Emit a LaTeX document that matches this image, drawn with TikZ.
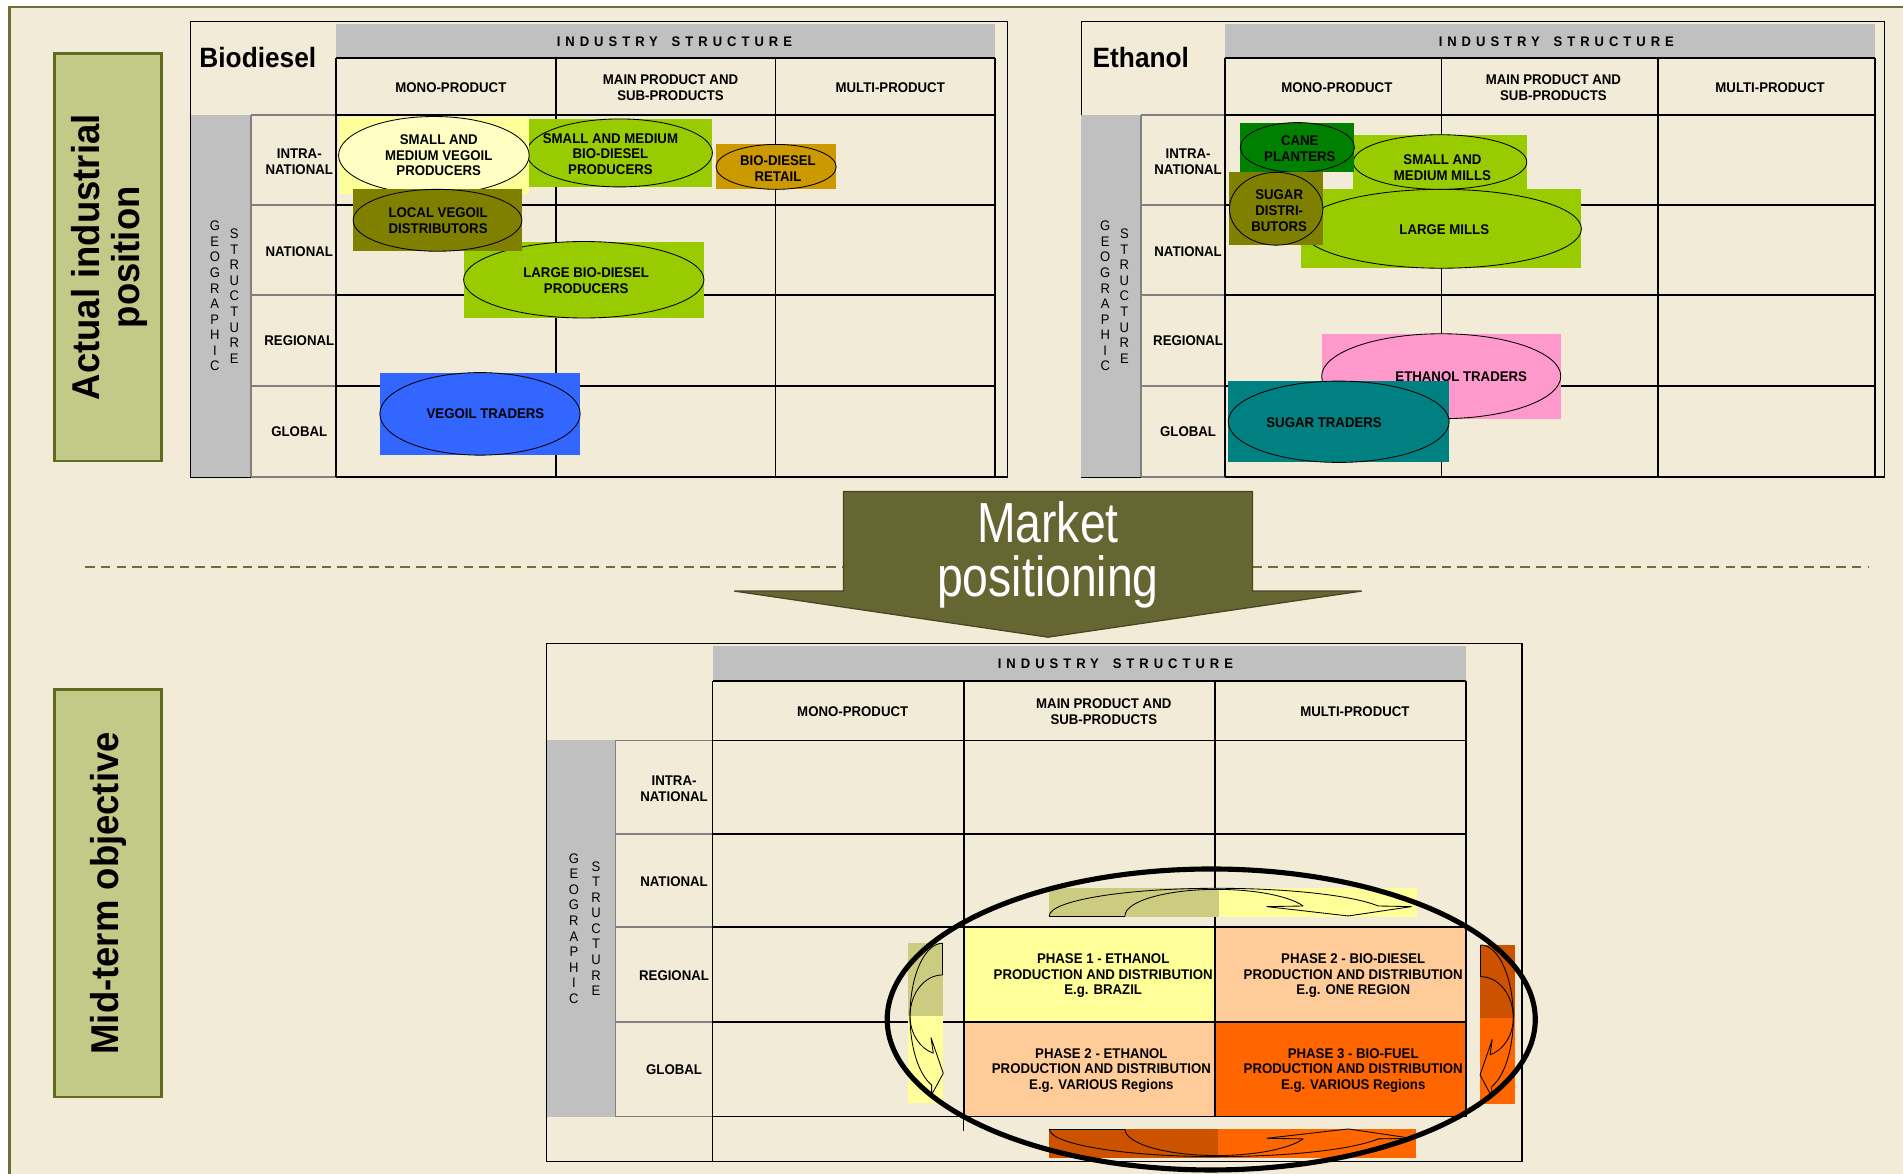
\documentclass[tikz,border=0pt]{standalone}
\usepackage{fontspec}
\setmainfont[FakeStretch=0.94]{Liberation Sans}
\newfontfamily\condfont[FakeStretch=0.82]{Liberation Sans}
\usepackage{tikz}
\usetikzlibrary{shapes.geometric}

\definecolor{paper}{HTML}{F2EBD7}
\definecolor{frameolive}{HTML}{6E6E3A}
\definecolor{tagfill}{HTML}{C3C987}
\definecolor{tagline}{HTML}{5F6B1E}
\definecolor{arrowolive}{HTML}{666633}
\definecolor{headgray}{HTML}{C0C0C0}
\definecolor{sidegray}{HTML}{808080}
\definecolor{paleyellow}{HTML}{FFFF99}
\definecolor{creamyellow}{HTML}{FFFFC4}
\definecolor{limegreen}{HTML}{99CC00}
\definecolor{oliveshade}{HTML}{808000}
\definecolor{goldshade}{HTML}{CC9900}
\definecolor{traderblue}{HTML}{3366FF}
\definecolor{leafgreen}{HTML}{008000}
\definecolor{rosepink}{HTML}{FF99CC}
\definecolor{tealshade}{HTML}{008080}
\definecolor{peach}{HTML}{FFCC99}
\definecolor{brightorange}{HTML}{FF6600}
\definecolor{burntorange}{HTML}{CC5200}
\definecolor{khaki}{HTML}{CCCC80}

\tikzset{%
  sheet/.style = {fill=paper, draw=frameolive, line width=1.1pt},
  tag/.style = {fill=tagfill, draw=tagline, line width=1.1pt},
  tagtext/.style = {rotate=90, align=center, inner sep=0pt,
        font=\bfseries\fontsize{18.2}{19}\selectfont},
  tableframe/.style = {draw=black, line width=0.6pt},
  gridline/.style = {draw=black, line width=0.8pt},
  sideline/.style = {draw=sidegray, line width=0.8pt},
  thinline/.style = {draw=black, line width=0.4pt},
  cell/.style = {align=center, inner sep=0pt,
        font=\bfseries\fontsize{6.6}{7.4}\selectfont},
  headtext/.style = {inner sep=0pt,
        font=\bfseries\fontsize{6.5}{7.4}\selectfont\addfontfeature{LetterSpace=36}},
  stack/.style = {align=center, inner sep=0pt,
        font=\fontsize{6.5}{7.3}\selectfont},
  titletext/.style = {anchor=base west, inner sep=0pt,
        font=\bfseries\fontsize{13.1}{15}\selectfont},
  actor/.style = {ellipse, draw=black, line width=0.4pt, inner sep=0pt},
  divider/.style = {draw=frameolive, line width=0.7pt, dash pattern=on 0.16cm off 0.1cm},
  bigarrow/.style = {fill=arrowolive, draw=arrowolive!70!black, line width=0.6pt},
  marketlabel/.style = {text=white, align=center, inner sep=0pt,
        font=\condfont\fontsize{26.5}{25.5}\selectfont},
  bendline/.style = {draw=black, line width=0.4pt},
  ring/.style = {draw=black, line width=2.4pt},
  hbend/.pic = {
    \draw[bendline] (0,0) -- (62.3,0);
    \draw[bendline] (0,0) arc[start angle=180, end angle=270, x radius=137.8, y radius=22.8]
      arc[start angle=270, end angle=339, x radius=142.7, y radius=22.8];
    \draw[bendline] (62.3,0) arc[start angle=180, end angle=270, x radius=75.5, y radius=21.9]
      arc[start angle=270, end angle=338, x radius=77, y radius=21.9];
    \draw[bendline] (209.2,-8.2) -- (179,-7.7) -- (246.3,0) -- (298.5,-7.7) -- (271,-8.2);
  },
  vbend/.pic = {
    \draw[bendline] (0,0) -- (0,26.1);
    \draw[bendline] (0,0) arc[start angle=270, end angle=180, x radius=26.9, y radius=59.9]
      arc[start angle=180, end angle=109.8, x radius=26.9, y radius=60.4];
    \draw[bendline] (0,26.1) arc[start angle=270, end angle=180, x radius=26.9, y radius=33.8]
      arc[start angle=180, end angle=106.6, x radius=26.9, y radius=32];
    \draw[bendline] (-7.7,90.6) -- (-9.6,77.7) -- (0.5,107.1) -- (-9.1,124.9) -- (-9.1,116.7);
  }
}

% grid of one positioning table: prefix, x, y, xscale, yscale, text shift
\newcommand{\positiongrid}[6]{%
  \begin{scope}[shift={(#2,#3)}, xscale=#4, yscale=#5]
    \fill[headgray] (120,2) rectangle (663,30);
    \fill[headgray] (0,77) rectangle (50,375);
    \foreach \gy in {77,151,225,300,375} {
      \draw[gridline] (120,\gy) -- (663,\gy);
      \draw[sideline] (50,\gy) -- (120,\gy);
    }
    \draw[gridline] (120,30) -- (663,30);
    \foreach \gx in {120,301,482,663}
      \draw[gridline] (\gx,30) -- (\gx,375);
    \draw[sideline] (50,77) -- (50,375);
    \node[headtext] (#1-head) at (391.5+1.8*#6,16) {INDUSTRY\quad STRUCTURE};
    \node[cell] (#1-mono) at (210.5+#6,54) {MONO-PRODUCT};
    \node[cell] (#1-main) at (391.5+#6,54) {MAIN PRODUCT AND\\SUB-PRODUCTS};
    \node[cell] (#1-multi) at (572.5+#6,54) {MULTI-PRODUCT};
    \node[cell] (#1-intra) at (88+0.4*#6,115) {INTRA-\\NATIONAL};
    \node[cell] (#1-nat) at (88+0.4*#6,189) {NATIONAL};
    \node[cell] (#1-reg) at (88+0.4*#6,263) {REGIONAL};
    \node[cell] (#1-glob) at (88+0.4*#6,338) {GLOBAL};
    \node[stack] (#1-geo) at (20,226) {G\\E\\O\\G\\R\\A\\P\\H\\I\\C};
    \node[stack] (#1-str) at (36,226) {S\\T\\R\\U\\C\\T\\U\\R\\E};
  \end{scope}}

% one player: name, box colour, ellipse colour, x1, y1, x2, y2, text position, text
\newcommand{\actor}[9]{%
  \fill[#2] (#4,#5) rectangle (#6,#7);
  \node[actor, fill=#3, minimum width={(#6-#4)*0.02cm}, minimum height={(#7-#5)*0.02cm}]
    (#1) at ({(#4+#6)/2},{(#5+#7)/2}) {};
  \node[cell] (#1-label) at #8 {#9};}

\begin{document}
\begin{tikzpicture}[x=0.02cm, y=-0.02cm]
\useasboundingbox (0,0) rectangle (1568,967);
\fill[white] (0,0) rectangle (1568,967);
\draw[sheet] (7.7,6) rectangle (1620,1020);

% side tags
\draw[tag] (45,44) rectangle (133,380);
\node[tagtext] (actualtag) at (90,212) {Actual industrial\\position};
\draw[tag] (45,568) rectangle (133,904);
\node[tagtext] (midtag) at (89,736) {Mid-term objective};

% biodiesel table
\draw[tableframe] (157,18) rectangle (830,393);
\positiongrid{bio}{157}{18}{1}{1}{4}
\node[titletext] (biotitle) at (164,56) {Biodiesel};
\actor{smbio}{limegreen}{limegreen}{434}{98}{587}{154}{(503,127)}{SMALL AND MEDIUM\\BIO-DIESEL\\PRODUCERS}
\actor{vegprod}{paleyellow}{creamyellow}{279}{96}{436}{160}{(361.5,128)}{SMALL AND\\MEDIUM VEGOIL\\PRODUCERS}
\actor{largebio}{limegreen}{limegreen}{382}{199}{580}{262}{(483,231)}{LARGE BIO-DIESEL\\PRODUCERS}
\actor{localveg}{oliveshade}{oliveshade}{291}{156}{430}{207}{(361,181.5)}{LOCAL VEGOIL\\DISTRIBUTORS}
\actor{retail}{goldshade}{goldshade}{590}{119}{689}{156}{(641,139)}{BIO-DIESEL\\RETAIL}
\actor{vegtrade}{traderblue}{traderblue}{313}{307}{478}{375}{(400,341)}{VEGOIL TRADERS}

% ethanol table
\draw[tableframe] (891,18) rectangle (1553,393);
\positiongrid{eth}{891}{18}{0.986}{1}{3}
\node[titletext] (ethtitle) at (900,56) {Ethanol};
\actor{largemills}{limegreen}{limegreen}{1072}{156}{1303}{221}{(1190,189)}{LARGE MILLS}
\actor{smmills}{limegreen}{limegreen}{1115}{111}{1258}{156}{(1188.5,138)}{SMALL AND\\MEDIUM MILLS}
\actor{cane}{leafgreen}{leafgreen}{1022}{101}{1116}{142}{(1071,122.5)}{CANE\\PLANTERS}
\actor{sugdist}{oliveshade}{oliveshade}{1013}{142}{1090}{202}{(1054,173.5)}{SUGAR\\DISTRI-\\BUTORS}
\actor{ethtrade}{rosepink}{rosepink}{1089}{275}{1286}{345}{(1204,310)}{ETHANOL TRADERS}
\actor{sugtrade}{tealshade}{tealshade}{1012}{314}{1194}{381}{(1091,348)}{SUGAR TRADERS}

% market positioning
\draw[divider] (70,467) -- (1540,467);
\draw[bigarrow] (695,405) -- (1032,405) -- (1032,487) -- (1122,487) -- (863.5,525)
  -- (605,487) -- (695,487) -- cycle;
\node[marketlabel] (market) at (863.5,457) {Market\\positioning};

% mid-term table
\fill[paleyellow] (794,765) rectangle (1002,843);
\fill[peach] (1002,765) rectangle (1209,843);
\fill[peach] (794,843) rectangle (1002,920);
\fill[brightorange] (1002,843) rectangle (1209,920);
\positiongrid{goal}{450}{530}{1.143}{1.04}{10.5}
\draw[tableframe] (450,530) rectangle (1254,957);
\draw[thinline] (587,920) -- (587,957);
\draw[thinline] (794,920) -- (794,932);
\node[cell] (phase1) at (909,804) {PHASE 1 - ETHANOL\\PRODUCTION AND DISTRIBUTION\\E.g. BRAZIL};
\node[cell] (phase2b) at (1115,804) {PHASE 2 - BIO-DIESEL\\PRODUCTION AND DISTRIBUTION\\E.g. ONE REGION};
\node[cell] (phase2e) at (907.5,882) {PHASE 2 - ETHANOL\\PRODUCTION AND DISTRIBUTION\\E.g. VARIOUS Regions};
\node[cell] (phase3) at (1115,882) {PHASE 3 - BIO-FUEL\\PRODUCTION AND DISTRIBUTION\\E.g. VARIOUS Regions};

% bent arrows between phases
\fill[khaki] (864.6,731.9) rectangle (1004.3,755.3);
\fill[paleyellow] (1004.3,731.9) rectangle (1167.3,755.3);
\pic at (864.6,754.7) {hbend};
\fill[burntorange] (864.6,930.2) rectangle (1003.5,953.8);
\fill[brightorange] (1003.5,930.2) rectangle (1166.7,953.8);
\pic[yscale=-1] at (864.6,930.2) {hbend};
\fill[khaki] (747.9,776.6) rectangle (777.2,837.1);
\fill[paleyellow] (747.9,837.1) rectangle (777.2,908.5);
\pic at (776.7,777.2) {vbend};
\fill[burntorange] (1219.4,778.6) rectangle (1248.3,839);
\fill[brightorange] (1219.4,839) rectangle (1248.3,909.8);
\pic[xscale=-1] at (1220,778.6) {vbend};

\draw[ring] (998,840) ellipse [x radius=267, y radius=124];
\end{tikzpicture}
\end{document}
